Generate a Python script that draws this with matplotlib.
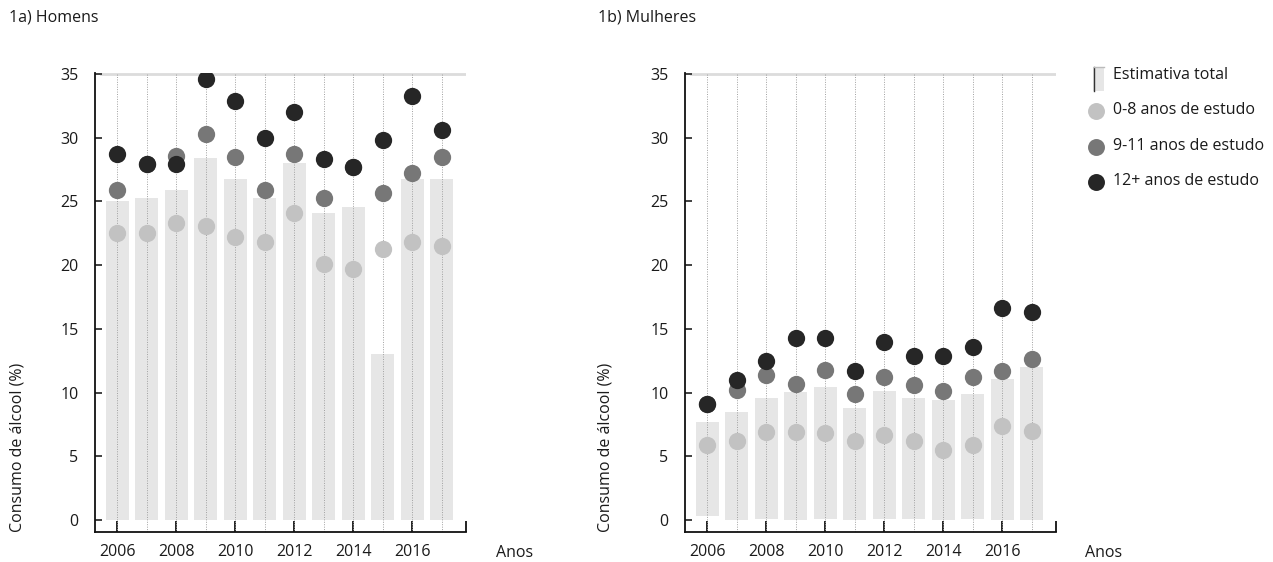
import matplotlib
matplotlib.use("Agg")
import matplotlib.pyplot as plt
from matplotlib.patches import Rectangle
from matplotlib.lines import Line2D
import numpy as np

plt.rcParams['font.family'] = ['Open Sans', 'DejaVu Sans']

years = list(range(2006, 2018))
xtick_years = [2006, 2008, 2010, 2012, 2014, 2016]
yticks = [0, 5, 10, 15, 20, 25, 30, 35]

# Homens
men_total = [25.0, 25.3, 25.9, 28.4, 26.8, 25.3, 28.0, 24.1, 24.6, 13.0, 26.8, 26.8]
men_low = [22.5, 22.5, 23.3, 23.1, 22.2, 21.8, 24.1, 20.1, 19.7, 21.3, 21.8, 21.5]
men_mid = [25.9, 27.9, 28.6, 30.3, 28.5, 25.9, 28.7, 25.3, 27.7, 25.7, 27.2, 28.5]
men_high = [28.7, 27.9, 27.9, 34.6, 32.9, 30.0, 32.0, 28.3, 27.7, 29.8, 33.3, 30.6]
men_bottom = [0] * 12

# Mulheres
women_total = [7.7, 8.5, 9.6, 10.05, 10.4, 8.8, 10.1, 9.6, 9.4, 9.9, 11.1, 12.0]
women_low = [5.9, 6.2, 6.9, 6.9, 6.8, 6.2, 6.7, 6.2, 5.5, 5.9, 7.4, 7.0]
women_mid = [9.1, 10.2, 11.4, 10.7, 11.8, 9.9, 11.2, 10.6, 10.1, 11.2, 11.7, 12.6]
women_high = [9.1, 11.0, 12.5, 14.3, 14.3, 11.7, 14.0, 12.9, 12.9, 13.6, 16.6, 16.3]
women_bottom = [0.3, 0, 0.1, 0, 0.1, 0, 0.1, 0.1, 0, 0.1, 0, 0]

legend_labels = ["Estimativa total", "0-8 anos de estudo", "9-11 anos de estudo", "12+ anos de estudo"]

C_BAR = "#e6e6e6"
C_LOW = "#c2c2c2"
C_MID = "#777777"
C_HIGH = "#262626"
TXT = "#1a1a1a"
FS = 11.5

W, H = 1273, 562
fig = plt.figure(figsize=(W / 100, H / 100), dpi=100)


def px(x, y):
    return x / W, 1 - y / H


def make_panel(left_px, title, title_x, ylabel_x, anos_x, total, bottom, low, mid, high):
    l, _ = px(left_px, 0)
    ax = fig.add_axes([l, 1 - 532 / H, 371 / W, (532 - 73) / H])
    ax.set_xlim(2005.25, 2017.83)
    ax.set_ylim(-0.94, 35.08)
    for s in ["top", "right"]:
        ax.spines[s].set_visible(False)
    for s in ["left", "bottom"]:
        ax.spines[s].set_linewidth(1.3)
        ax.spines[s].set_color("#111111")
    ax.axhline(35, xmin=0.015, xmax=1, color="#dcdcdc", lw=2, zorder=0)
    ax.vlines(years, -0.94, 35, colors="#a0a0a0", linestyles=(0, (1, 1.5)), lw=0.7, zorder=2)
    heights = np.array(total) - np.array(bottom)
    ax.bar(years, heights, bottom=bottom, width=0.78, color=C_BAR, zorder=1)
    ms = 155
    ax.scatter(years, low, s=ms, color=C_LOW, zorder=3, linewidths=0)
    ax.scatter(years, mid, s=ms, color=C_MID, zorder=4, linewidths=0)
    ax.scatter(years, high, s=ms, color=C_HIGH, zorder=5, linewidths=0)
    ax.set_xticks(xtick_years)
    ax.set_xticklabels([str(y) for y in xtick_years])
    ax.set_xticks([2017.83], minor=True)
    ax.set_yticks(yticks)
    ax.tick_params(axis="y", direction="in", length=5, width=1.3, pad=12,
                   labelsize=FS, labelcolor=TXT, color="#333333")
    ax.tick_params(axis="x", which="both", direction="in", length=8, width=1.3, pad=9,
                   labelsize=FS, labelcolor=TXT, color="#111111")
    ax.tick_params(axis="x", which="minor", labelbottom=False)
    tx, ty = px(title_x, 18)
    fig.text(tx, ty, title, fontsize=FS, color=TXT, va="center", ha="left")
    lx, ly = px(ylabel_x, 532)
    fig.text(lx, ly, "Consumo de álcool (%)", rotation=90, fontsize=FS, color=TXT,
             va="bottom", ha="center")
    ax_, ay_ = px(anos_x, 553)
    fig.text(ax_, ay_, "Anos", fontsize=FS, color=TXT, va="center", ha="left")
    return ax


make_panel(95, "1a) Homens", 9, 18, 496, men_total, men_bottom, men_low, men_mid, men_high)
make_panel(685, "1b) Mulheres", 598, 606, 1085, women_total, women_bottom, women_low, women_mid, women_high)

# Legend
rx, ry = px(1093, 91)
fig.patches.append(Rectangle((rx, ry), 11 / W, 24 / H, transform=fig.transFigure,
                             facecolor=C_BAR, edgecolor="none"))
fig.lines.append(Line2D([1093.5 / W, 1093.5 / W], [1 - 91 / H, 1 - 67 / H],
                        transform=fig.transFigure, color="#333333", lw=1))
fig.lines.append(Line2D([1093.5 / W, 1104 / W], [1 - 67 / H, 1 - 67 / H],
                        transform=fig.transFigure, color="#bbbbbb", lw=1))
leg_y = [75, 110, 146, 181]
for i, (lab, yy) in enumerate(zip(legend_labels, leg_y)):
    x0, y0 = px(1113, yy)
    fig.text(x0, y0, lab, fontsize=FS, color=TXT, va="center", ha="left")
    if i > 0:
        col = [C_LOW, C_MID, C_HIGH][i - 1]
        cx, cy = px(1096, yy + 1)
        fig.lines.append(Line2D([cx], [cy], transform=fig.transFigure, marker="o",
                                markersize=12.2, color=col, markeredgewidth=0, linestyle="none"))

fig.savefig("out.png", dpi=100, facecolor="white")
